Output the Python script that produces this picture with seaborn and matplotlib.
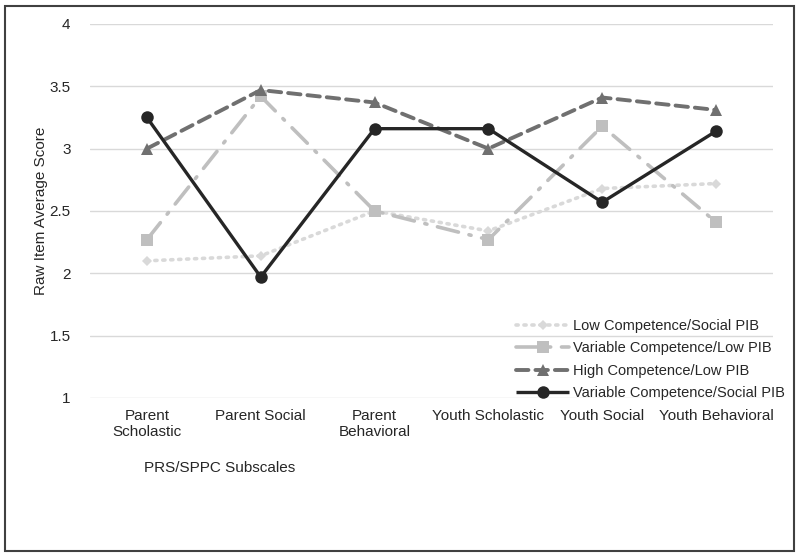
import matplotlib
matplotlib.use("Agg")
import matplotlib.pyplot as plt
import pandas as pd
import seaborn as sns
from matplotlib.patches import Rectangle

# Subscale categories and tick labels
subscales = ["Parent Scholastic", "Parent Social", "Parent Behavioral",
             "Youth Scholastic", "Youth Social", "Youth Behavioral"]
tick_labels = ["Parent\nScholastic", "Parent Social", "Parent\nBehavioral",
               "Youth Scholastic", "Youth Social", "Youth Behavioral"]

# Profile group averages
low_comp_social = [2.10, 2.14, 2.50, 2.34, 2.68, 2.72]
var_comp_low = [2.27, 3.42, 2.50, 2.27, 3.18, 2.41]
high_comp_low = [3.00, 3.47, 3.37, 3.00, 3.41, 3.31]
var_comp_social = [3.25, 1.97, 3.16, 3.16, 2.57, 3.14]

groups = {
    "Low Competence/Social PIB": low_comp_social,
    "Variable Competence/Low PIB": var_comp_low,
    "High Competence/Low PIB": high_comp_low,
    "Variable Competence/Social PIB": var_comp_social,
}

styles = {
    "Low Competence/Social PIB": dict(color="#d9d9d9", marker="D", ms=5, dashes=(0.6, 1.6),
                                      lw=2.6, cap="round"),
    "Variable Competence/Low PIB": dict(color="#bfbfbf", marker="s", ms=8, dashes=(6, 3, 0.6, 3),
                                        lw=2.6, cap="round"),
    "High Competence/Low PIB": dict(color="#707070", marker="^", ms=9, dashes=(3.2, 1.8),
                                    lw=2.8, cap="round"),
    "Variable Competence/Social PIB": dict(color="#262626", marker="o", ms=9, dashes=None,
                                           lw=2.4, cap="butt"),
}

rows = []
for name, vals in groups.items():
    for sub, v in zip(subscales, vals):
        rows.append({"group": name, "subscale": sub, "score": v})
df = pd.DataFrame(rows)

sns.set_style("white")
plt.rcParams["font.family"] = ["Liberation Sans", "DejaVu Sans"]

fig = plt.figure(figsize=(8, 5.57), dpi=100)
ax = fig.add_axes([0.1125, 0.2855, 0.8537, 0.6715])

for name in groups:
    st = styles[name]
    sub = df[df["group"] == name]
    sns.lineplot(data=sub, x="subscale", y="score", ax=ax, color=st["color"],
                 marker=st["marker"], markersize=st["ms"], markeredgewidth=0,
                 linewidth=st["lw"], label=name, sort=False,
                 solid_capstyle=st["cap"], dash_capstyle=st["cap"])
    line = ax.get_lines()[-1]
    if st["dashes"] is not None:
        line.set_dashes(st["dashes"])

ax.set_ylim(1, 4)
ax.set_yticks([1, 1.5, 2, 2.5, 3, 3.5, 4])
ax.set_yticklabels(["1", "1.5", "2", "2.5", "3", "3.5", "4"])
ax.set_xlim(-0.5, 5.5)
ax.set_xticks(range(len(subscales)))
ax.set_xticklabels(tick_labels, va="top")
ax.tick_params(axis="both", labelsize=11, colors="#262626", length=0, pad=8)
ax.tick_params(axis="y", pad=14)
ax.grid(axis="y", color="#d9d9d9", linewidth=1)
ax.set_axisbelow(True)
for s in ax.spines.values():
    s.set_visible(False)

ax.set_xlabel("")
ax.set_ylabel("Raw Item Average Score", fontsize=11, color="#262626", labelpad=1)
fig.text(0.275, 0.160, "PRS/SPPC Subscales", fontsize=11, color="#262626",
         ha="center", va="center")

leg = ax.legend(loc="lower right", bbox_to_anchor=(1.037, -0.04), frameon=False,
                fontsize=10.5, handlelength=3.6, handletextpad=0.3,
                labelspacing=0.56, labelcolor="#262626")
for h, name in zip(leg.get_lines(), groups):
    st = styles[name]
    if st["dashes"] is not None:
        h.set_dashes(st["dashes"])

fig.patches.append(Rectangle((0.006, 0.01), 0.986, 0.98, transform=fig.transFigure,
                             fill=False, edgecolor="#404040", linewidth=1.5))

fig.savefig("out.png", dpi=100)
